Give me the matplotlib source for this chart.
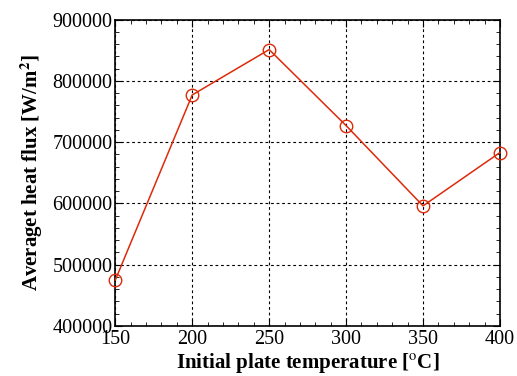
import matplotlib.pyplot as plt
from matplotlib.ticker import MultipleLocator

plt.rcParams["font.family"] = ["Liberation Serif", "DejaVu Serif"]
plt.rcParams["mathtext.fontset"] = "stix"

temperature = [150, 200, 250, 300, 350, 400]
heat_flux = [475000, 777000, 851000, 727000, 596000, 683000]

fig, ax = plt.subplots(figsize=(5.17, 3.76), dpi=100)
fig.subplots_adjust(left=0.223, right=0.967, top=0.948, bottom=0.133)

ax.plot(temperature, heat_flux, color="#dd2a0a", lw=1.1, marker="o",
        markersize=9, markerfacecolor="none", markeredgecolor="#dd2a0a",
        markeredgewidth=1.0, clip_on=False, zorder=3)

ax.set_xlim(150, 400)
ax.set_ylim(400000, 900000)
ax.xaxis.set_major_locator(MultipleLocator(50))
ax.xaxis.set_minor_locator(MultipleLocator(10))
ax.yaxis.set_major_locator(MultipleLocator(100000))
ax.yaxis.set_minor_locator(MultipleLocator(20000))
ax.tick_params(which="both", direction="in", top=True, right=True,
               labelsize=14.5, pad=3)
ax.tick_params(axis="y", pad=2)
ax.tick_params(which="major", length=5)
ax.tick_params(which="minor", length=3)
ax.grid(True, which="major", color="black", linestyle=(0, (2.5, 2.5)), lw=0.8)
for s in ax.spines.values():
    s.set_linewidth(1.2)

ax.set_xlabel(r"Initial plate temperature [$^{\mathrm{o}}$C]",
              fontsize=15, fontweight="bold", labelpad=1)
ax.set_ylabel(r"Averaget heat flux [W/m$^{\mathbf{2}}$]",
              fontsize=15, fontweight="bold", labelpad=5)

fig.savefig("out.png", dpi=100)
